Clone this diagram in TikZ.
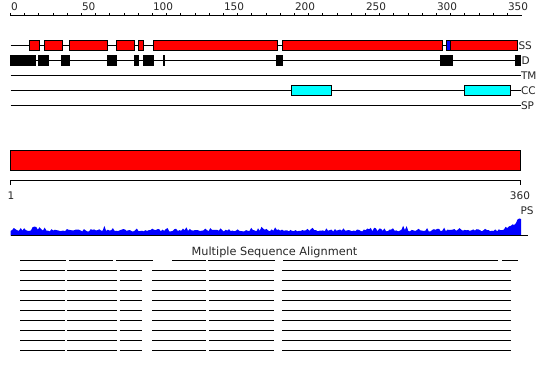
\documentclass[tikz,border=0pt]{standalone}
\usepackage{fontspec}
\setmainfont{DejaVu Sans}
\definecolor{ssred}{RGB}{255,0,0}
\definecolor{ssblue}{RGB}{0,0,255}
\definecolor{cccyan}{RGB}{0,255,255}
\definecolor{psblue}{RGB}{0,0,255}
\begin{document}
\begin{tikzpicture}[x=1pt,y=-1pt,line width=1pt,
  lbl/.style={font=\fontsize{10.5}{10.5}\selectfont,inner sep=0pt,text=black!85},
  track/.style={draw=black,line width=1pt},
  ssbox/.style={fill=ssred,draw=black,line width=1pt},
  hbox/.style={fill=ssblue,draw=black,line width=1pt},
  dbox/.style={fill=black,draw=black,line width=1pt},
  ccbox/.style={fill=cccyan,draw=black,line width=1pt},
  msa/.style={draw=black,line width=1pt}]
\useasboundingbox (0,0) rectangle (550,380);
% top ruler
\draw[track] (10.5,15.5) -- (522,15.5);
\foreach \r in {0,10,...,350}{\draw[track] ({10.5+1.42*\r},15.5) -- ({10.5+1.42*\r},12.5);}
\foreach \r in {0,50,...,350}{\node[lbl,anchor=base west] (r\r) at ({10.5+1.42*\r},10.5) {\r};}
% SS track
\draw[track] (10.5,45.5) -- (517.5,45.5);
\foreach \a/\b in {29.5/39.5,44.5/62.5,69.5/107.5,116.5/134.5,138.5/143.5,153.5/277.5,282.5/442.5,450.5/517.5}
  {\draw[ssbox] (\a,40.5) rectangle (\b,50.5);}
\draw[hbox] (446.5,40.5) rectangle (450.5,50.5);
\node[lbl,anchor=west] (ss) at (518,45.5) {SS};
% D track
\draw[track] (10.5,60.5) -- (520.5,60.5);
\foreach \a/\b in {10.5/35.5,38.5/48.5,61.5/69.5,107.5/116.5,134.5/138.5,143.5/153.5,163.5/164.5,276.5/282.5,440.5/452.5,515.5/520.5}
  {\draw[dbox] (\a,55.5) rectangle (\b,65.5);}
\node[lbl,anchor=west] (d) at (521,60.5) {D};
% TM
\draw[track] (10.5,75.5) -- (520.5,75.5);
\node[lbl,anchor=west] (tm) at (520.5,75.5) {TM};
% CC
\draw[track] (10.5,90.5) -- (520.5,90.5);
\draw[ccbox] (291.5,85.5) rectangle (331.5,95.5);
\draw[ccbox] (464.5,85.5) rectangle (510.5,95.5);
\node[lbl,anchor=west] (cc) at (520.5,90.5) {CC};
% SP
\draw[track] (10.5,105.5) -- (520.5,105.5);
\node[lbl,anchor=west] (sp) at (520.5,105.5) {SP};
% big bar
\draw[ssbox] (10.5,150.5) rectangle (520.5,170.5);
% second ruler
\draw[track] (10.5,185) -- (10.5,180.5) -- (520.5,180.5) -- (520.5,185);
\node[lbl] (one) at (11,195.5) {1};
\node[lbl] (end) at (520,195.5) {360};
\node[lbl] (ps) at (527,210.5) {PS};
% profile
\pgfmathsetseed{11}
\fill[psblue] (10.5,235.5) -- plot[domain=10.5:521,samples=300]
  (\x,{231.5-1.8*rnd-4*rnd^6-(\x<45)*6*rnd^2-max(0,\x-505)*0.85*(0.7+0.3*rnd)}) -- (521,235.5) -- cycle;
\draw[black,line width=1pt] (10.5,235.5) -- (528,235.5);
% MSA
\node[font=\fontsize{11.3}{11.3}\selectfont,inner sep=0pt,anchor=base,text=black!85] (msa) at (274.5,255) {Multiple Sequence Alignment};
\foreach \a/\b in {20/66,69/113,116/153,172/206,208/275,283/498,502/518}
  {\draw[msa] (\a,260.5) -- (\b,260.5);}
\foreach \k in {1,...,9}{
  \foreach \a/\b in {20/65,67/117,119.5/142,152/206,209/274,282/511}
    {\draw[msa] (\a,{260.5+10*\k}) -- (\b,{260.5+10*\k});}
}
\end{tikzpicture}
\end{document}
